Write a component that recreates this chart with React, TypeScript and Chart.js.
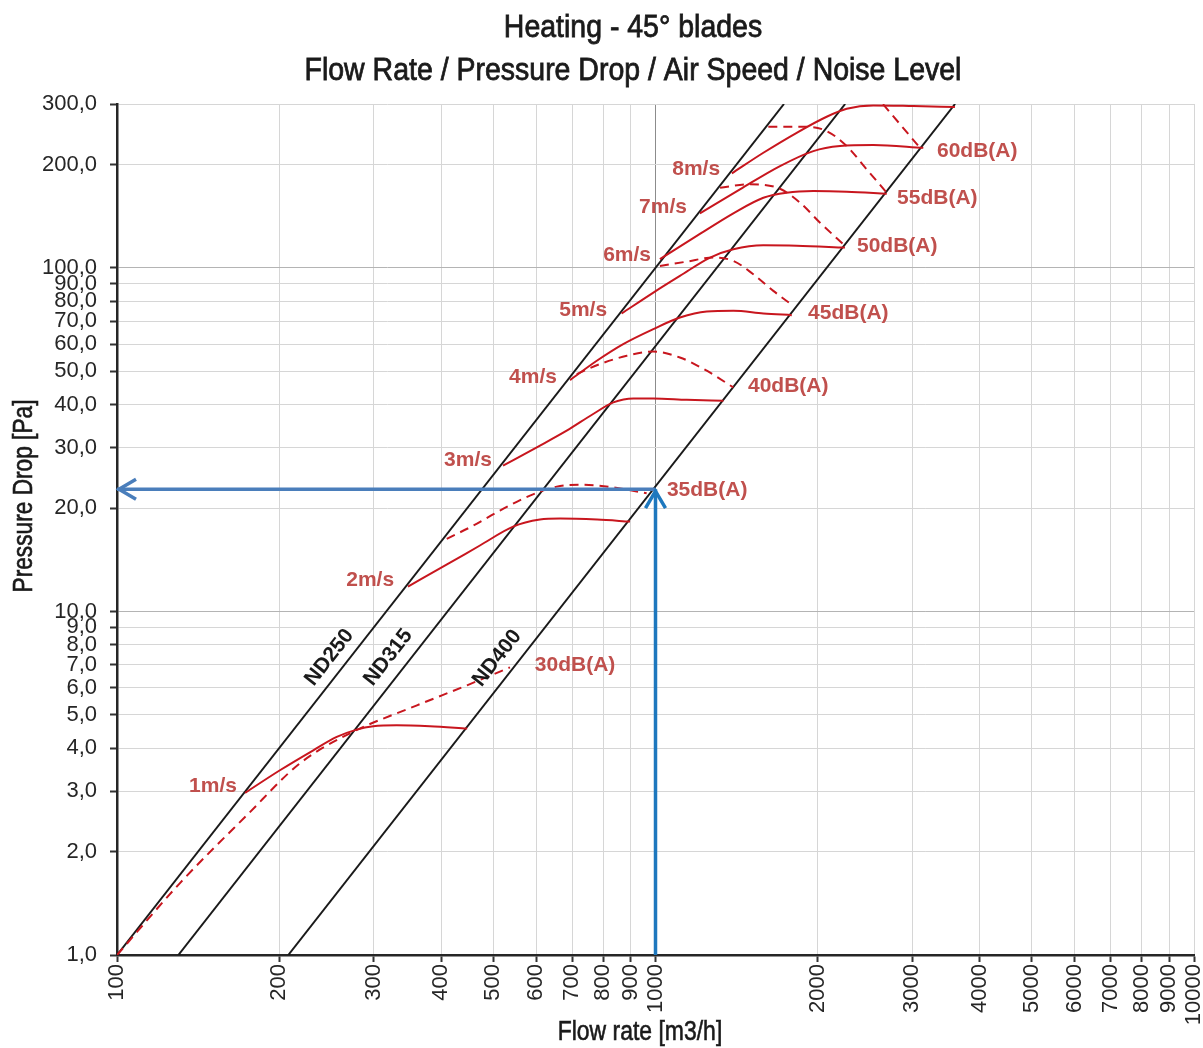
import { useEffect, useRef } from "react";
import { Chart, registerables } from "chart.js";

Chart.register(...registerables);

// ---------- axes ----------
const X_MIN = 100;
const X_MAX = 10000;
const Y_MIN = 1;
const Y_MAX = 300;
const X_TICKS = [100, 200, 300, 400, 500, 600, 700, 800, 900, 1000, 2000, 3000, 4000, 5000, 6000, 7000, 8000, 9000, 10000];
const X_TICK_LABELS = ["100", "200", "300", "400", "500", "600", "700", "800", "900", "1000", "2000", "3000", "4000", "5000", "6000", "7000", "8000", "9000", "10000"];
const Y_TICKS = [1, 2, 3, 4, 5, 6, 7, 8, 9, 10, 20, 30, 40, 50, 60, 70, 80, 90, 100, 200, 300];
const Y_TICK_LABELS = ["1,0", "2,0", "3,0", "4,0", "5,0", "6,0", "7,0", "8,0", "9,0", "10,0", "20,0", "30,0", "40,0", "50,0", "60,0", "70,0", "80,0", "90,0", "100,0", "200,0", "300,0"];

const TITLE_LINES = ["Heating - 45° blades", "Flow Rate / Pressure Drop / Air Speed / Noise Level"];
const X_TITLE = "Flow rate [m3/h]";
const Y_TITLE = "Pressure Drop [Pa]";

// ---------- duct lines ----------
const ND_NAMES = ["ND250", "ND315", "ND400"];
const ND250_Q = [100, 1732];
const ND250_P = [1, 300];
const ND315_Q = [130, 2250];
const ND315_P = [1, 300];
const ND400_Q = [208, 3600];
const ND400_P = [1, 300];
const ND_LABEL_Q = [248, 319, 508];
const ND_LABEL_P = [7.35, 7.35, 7.31];

// ---------- air speed curves ----------
const SPEED_NAMES = ["1m/s", "2m/s", "3m/s", "4m/s", "5m/s", "6m/s", "7m/s", "8m/s"];
const V1_Q = [172.9, 200.7, 231.5, 255.9, 278.7, 299.2, 330.7, 381, 447];
const V1_P = [2.965, 3.45, 3.944, 4.312, 4.53, 4.632, 4.663, 4.632, 4.56];
const V2_Q = [347, 410, 472, 544, 610, 665, 779, 897];
const V2_P = [11.82, 13.7, 15.56, 17.66, 18.51, 18.64, 18.51, 18.26];
const V3_Q = [521, 602, 684, 766, 835, 910, 991, 1143, 1337];
const V3_P = [26.57, 30.05, 33.59, 37.56, 40.6, 41.71, 41.71, 41.33, 41.06];
const V4_Q = [694, 778, 871, 991, 1110, 1245, 1395, 1586, 1791];
const V4_P = [47.15, 53.66, 60.0, 66.35, 71.7, 74.64, 74.99, 73.67, 72.87];
const V5_Q = [865, 991, 1110, 1263, 1395, 1586, 1829, 2248];
const V5_P = [73.67, 84.78, 94.78, 107.2, 113.3, 116.4, 116.1, 114.6];
const V6_Q = [1019, 1193, 1395, 1586, 1752, 1964, 2265, 2688];
const V6_P = [106, 123.9, 144.2, 160.1, 165.6, 167.4, 166.7, 164.4];
const V7_Q = [1209, 1435, 1703, 1964, 2201, 2538, 3143];
const V7_P = [144.2, 169.3, 197.9, 218.8, 226.3, 227.9, 223.7];
const V8_Q = [1386, 1586, 1829, 2079, 2265, 2538, 3010, 3598];
const V8_P = [188.5, 216.4, 247.4, 275.4, 290.5, 297.2, 295.8, 293.8];
const SPEED_LABEL_Q = [167, 327, 497, 656, 813, 981, 1144, 1318];
const SPEED_LABEL_P = [3.1, 12.31, 27.48, 48.2, 75.5, 109.1, 150.4, 194.1];

// ---------- noise curves ----------
const NOISE_NAMES = ["30dB(A)", "35dB(A)", "40dB(A)", "45dB(A)", "50dB(A)", "55dB(A)", "60dB(A)"];
const N30_Q = [100, 130.9, 174.3, 218.7, 270.9, 360.6, 446.7, 536.7];
const N30_P = [1.0, 1.619, 2.553, 3.614, 4.42, 5.33, 6.096, 6.874];
const N35_Q = [409.6, 458.9, 514.2, 584.7, 655.5, 724.1, 834, 962.9];
const N35_P = [16.27, 17.78, 19.66, 21.74, 23.09, 23.39, 22.98, 22.08];
const N40_Q = [714, 788.6, 884.3, 990, 1110, 1245, 1395];
const N40_P = [49.09, 52.5, 55.5, 57.1, 54.86, 50.2, 44.88];
const N45_Q = [1019, 1143, 1280, 1395, 1519, 1655, 1803];
const N45_P = [101.3, 104.3, 107.2, 104.8, 95.87, 85.75, 77.5];
const N50_Q = [1318, 1498, 1703, 1855, 2021, 2250];
const N50_P = [171.2, 175.2, 170.0, 154.9, 135.4, 115.9];
const N55_Q = [1620, 1909, 2079, 2265, 2467, 2688];
const N55_P = [257.5, 257.5, 250.2, 226.3, 193.6, 165.6];
const N60_Q = [2646, 3098];
const N60_P = [299.6, 223.7];
const NOISE_LABEL_Q = [597, 1050, 1485, 1920, 2367, 2809, 3332];
const NOISE_LABEL_P = [6.97, 22.48, 45.4, 74.0, 115.9, 159.7, 218.8];

// ---------- duty point (blue arrows) ----------
const DUTY_Q = 1000;
const DUTY_P = 22.7;

// ---------- styles ----------
const LINE_RED = "#C8161E";
const LABEL_RED = "#C0504D";
const BLUE_H = "#4A7EBB";
const BLUE_V = "#1E78BE";
const BLACK = "#1a1a1a";
const FONT = "'Liberation Sans', Arial, sans-serif";

const pts = (q: number[], p: number[]) => q.map((v, i) => ({ x: v, y: p[i] }));

const ND_SERIES = [
  { q: ND250_Q, p: ND250_P },
  { q: ND315_Q, p: ND315_P },
  { q: ND400_Q, p: ND400_P },
];
const SPEED_SERIES = [
  { q: V1_Q, p: V1_P },
  { q: V2_Q, p: V2_P },
  { q: V3_Q, p: V3_P },
  { q: V4_Q, p: V4_P },
  { q: V5_Q, p: V5_P },
  { q: V6_Q, p: V6_P },
  { q: V7_Q, p: V7_P },
  { q: V8_Q, p: V8_P },
];
const NOISE_SERIES = [
  { q: N30_Q, p: N30_P },
  { q: N35_Q, p: N35_P },
  { q: N40_Q, p: N40_P },
  { q: N45_Q, p: N45_P },
  { q: N50_Q, p: N50_P },
  { q: N55_Q, p: N55_P },
  { q: N60_Q, p: N60_P },
];

const decorPlugin = {
  id: "decor",
  afterDatasetsDraw(chart: any) {
    const { ctx, scales } = chart;
    const px = (v: number) => scales.x.getPixelForValue(v);
    const py = (v: number) => scales.y.getPixelForValue(v);
    ctx.save();

    // arrow heads
    ctx.lineWidth = 3.5;
    ctx.lineJoin = "miter";
    const hx = px(X_MIN);
    const hy = py(DUTY_P);
    ctx.strokeStyle = BLUE_H;
    ctx.beginPath();
    ctx.moveTo(hx + 19, hy - 10);
    ctx.lineTo(hx + 2, hy);
    ctx.lineTo(hx + 19, hy + 10);
    ctx.stroke();
    const vx = px(DUTY_Q);
    const vy = py(DUTY_P);
    ctx.strokeStyle = BLUE_V;
    ctx.beginPath();
    ctx.moveTo(vx - 10, vy + 19);
    ctx.lineTo(vx, vy + 2);
    ctx.lineTo(vx + 10, vy + 19);
    ctx.stroke();

    // speed labels
    ctx.font = "bold 21px " + FONT;
    ctx.fillStyle = LABEL_RED;
    ctx.textBaseline = "middle";
    ctx.textAlign = "right";
    SPEED_NAMES.forEach((t, i) => ctx.fillText(t, px(SPEED_LABEL_Q[i]), py(SPEED_LABEL_P[i])));
    ctx.textAlign = "left";
    NOISE_NAMES.forEach((t, i) => ctx.fillText(t, px(NOISE_LABEL_Q[i]), py(NOISE_LABEL_P[i])));

    // duct labels
    ctx.fillStyle = BLACK;
    ctx.textAlign = "center";
    ND_SERIES.forEach((s, i) => {
      const ang = Math.atan2(py(s.p[1]) - py(s.p[0]), px(s.q[1]) - px(s.q[0]));
      ctx.save();
      ctx.translate(px(ND_LABEL_Q[i]), py(ND_LABEL_P[i]));
      ctx.rotate(ang);
      ctx.fillText(ND_NAMES[i], 0, 0);
      ctx.restore();
    });
    ctx.restore();
  },
  afterDraw(chart: any) {
    const { ctx } = chart;
    ctx.save();
    ctx.fillStyle = BLACK;
    ctx.strokeStyle = BLACK;
    ctx.textAlign = "center";
    ctx.textBaseline = "alphabetic";
    const narrow = (text: string, x: number, y: number, size: number, sx: number, rot: number, sw: number) => {
      ctx.save();
      ctx.translate(x, y);
      ctx.rotate(rot);
      ctx.scale(sx, 1);
      ctx.font = size + "px " + FONT;
      ctx.fillText(text, 0, 0);
      ctx.lineWidth = sw;
      ctx.strokeText(text, 0, 0);
      ctx.restore();
    };
    narrow(TITLE_LINES[0], 633, 37, 32, 0.89, 0, 0.8);
    narrow(TITLE_LINES[1], 633, 80, 32, 0.89, 0, 0.8);
    narrow(X_TITLE, 640, 1040, 27, 0.85, 0, 0.6);
    narrow(Y_TITLE, 32, 496, 27, 0.84, -Math.PI / 2, 0.6);
    ctx.restore();
  },
};

export default function App() {
  const ref = useRef<HTMLCanvasElement>(null);
  useEffect(() => {
    const datasets: any[] = [];
    datasets.push({
      data: pts([DUTY_Q, X_MIN], [DUTY_P, DUTY_P]),
      borderColor: BLUE_H,
      borderWidth: 3.5,
      order: 0,
    });
    datasets.push({
      data: pts([DUTY_Q, DUTY_Q], [Y_MIN, DUTY_P]),
      borderColor: BLUE_V,
      borderWidth: 3.5,
      order: 0,
    });
    SPEED_SERIES.forEach((s) =>
      datasets.push({
        data: pts(s.q, s.p),
        borderColor: LINE_RED,
        borderWidth: 2,
        cubicInterpolationMode: "monotone",
        order: 1,
      })
    );
    NOISE_SERIES.forEach((s) =>
      datasets.push({
        data: pts(s.q, s.p),
        borderColor: LINE_RED,
        borderWidth: 2,
        borderDash: [9, 6],
        cubicInterpolationMode: "monotone",
        order: 2,
      })
    );
    ND_SERIES.forEach((s) =>
      datasets.push({
        data: pts(s.q, s.p),
        borderColor: BLACK,
        borderWidth: 2,
        order: 3,
      })
    );
    datasets.forEach((d) => {
      d.pointRadius = 0;
      d.fill = false;
      d.showLine = true;
    });

    const chart = new Chart(ref.current as HTMLCanvasElement, {
      type: "line",
      data: { datasets },
      options: {
        animation: false,
        responsive: false,
        devicePixelRatio: 1,
        events: [],
        layout: { padding: { top: 104, right: 9, left: 0, bottom: 0 } },
        plugins: { legend: { display: false }, tooltip: { enabled: false }, title: { display: false } },
        scales: {
          x: {
            type: "logarithmic",
            min: X_MIN,
            max: X_MAX,
            afterBuildTicks: (s: any) => {
              s.ticks = X_TICKS.map((v) => ({ value: v }));
            },
            afterFit: (s: any) => {
              s.height = 93;
              s.paddingLeft = 0;
              s.paddingRight = 0;
            },
            ticks: {
              autoSkip: false,
              minRotation: 90,
              maxRotation: 90,
              padding: 2,
              color: "#262626",
              font: { family: FONT, size: 22 },
              callback: (_v: any, i: number) => X_TICK_LABELS[i],
            },
            grid: {
              color: (c: any) => (c.tick && c.tick.value === 1000 ? "#8c8c8c" : "#d6d6d6"),
              lineWidth: 1,
              tickColor: "#333",
              tickLength: 7,
              tickWidth: 2,
            },
            border: { display: true, color: "#262626", width: 2.5 },
          },
          y: {
            type: "logarithmic",
            min: Y_MIN,
            max: Y_MAX,
            afterBuildTicks: (s: any) => {
              s.ticks = Y_TICKS.map((v) => ({ value: v }));
            },
            afterFit: (s: any) => {
              s.width = 117;
              s.paddingTop = 0;
              s.paddingBottom = 0;
            },
            ticks: {
              autoSkip: false,
              padding: 13,
              color: "#262626",
              font: { family: FONT, size: 22 },
              callback: (_v: any, i: number) => Y_TICK_LABELS[i],
            },
            grid: {
              color: (c: any) => (c.tick && (c.tick.value === 10 || c.tick.value === 100) ? "#b4b4b4" : "#d6d6d6"),
              lineWidth: 1,
              tickColor: "#333",
              tickLength: 7,
              tickWidth: 2,
            },
            border: { display: true, color: "#262626", width: 2.5 },
          },
        },
      },
      plugins: [decorPlugin],
    } as any);
    return () => chart.destroy();
  }, []);
  return (
    <canvas
      ref={ref}
      width={1203}
      height={1048}
      style={{ position: "absolute", left: 0, top: 0, display: "block" }}
    />
  );
}
